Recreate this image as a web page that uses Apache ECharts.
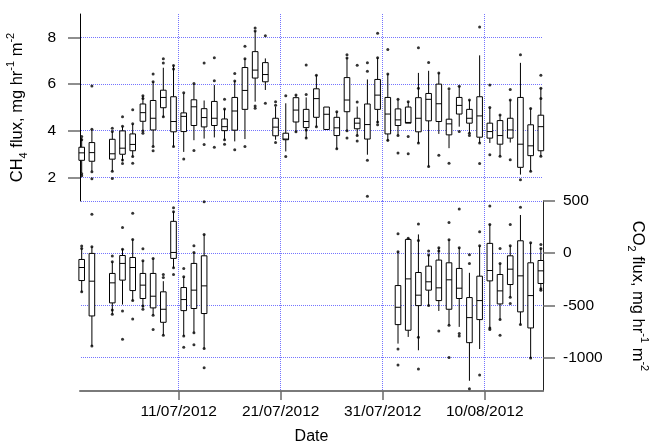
<!DOCTYPE html>
<html>
<head>
<meta charset="utf-8">
<script src="https://cdn.jsdelivr.net/npm/echarts@6/dist/echarts.min.js"></script>
<style>
html, body { margin: 0; padding: 0; background: #fff; }
#mychart { width: 649px; height: 446px; }
</style>
</head>
<body>
<div id="mychart"></div>
<script>
var domchart = document.getElementById("mychart");

// CH4 daily boxes (10th / 25th / median / 75th / 90th) and the dots beyond
var ch4Dates = ['2012-07-01', '2012-07-02', '2012-07-04', '2012-07-05', '2012-07-06', '2012-07-07', '2012-07-08',
    '2012-07-09', '2012-07-10', '2012-07-11', '2012-07-12', '2012-07-13', '2012-07-14', '2012-07-15', '2012-07-16',
    '2012-07-17', '2012-07-18', '2012-07-19', '2012-07-20', '2012-07-21', '2012-07-22', '2012-07-23', '2012-07-24',
    '2012-07-25', '2012-07-26', '2012-07-27', '2012-07-28', '2012-07-29', '2012-07-30', '2012-07-31', '2012-08-01',
    '2012-08-02', '2012-08-03', '2012-08-04', '2012-08-05', '2012-08-06', '2012-08-07', '2012-08-08', '2012-08-09',
    '2012-08-10', '2012-08-11', '2012-08-12', '2012-08-13', '2012-08-14', '2012-08-15'];
var ch4Low = [2.2, 2.27, 2.27, 2.7, 2.9, 4.0, 3.33, 4.6, 3.33, 3.1, 3.6, 3.67, 3.72, 3.62, 3.55, 3.65, 5.25, 5.75,
    3.62, 3.12, 3.96, 3.69, 4.18, 4.06, 3.23, 4.01, 3.8, 2.98, 4.33, 3.55, 3.8, 4.33, 3.48, 2.48, 3.87, 3.26, 4.18,
    3.9, 3.48, 3.48, 2.91, 3.5, 2.13, 2.27, 2.91];
var ch4Q1 = [2.74, 2.7, 2.79, 3.0, 3.15, 4.41, 4.04, 4.99, 3.96, 3.97, 4.23, 4.17, 4.23, 4.01, 4.03, 4.92, 6.26, 6.1,
    3.79, 3.62, 4.38, 4.14, 4.58, 4.06, 3.8, 4.82, 4.09, 3.65, 4.92, 3.87, 4.23, 4.33, 3.96, 4.43, 4.4, 3.83, 4.72,
    4.33, 3.73, 3.69, 3.43, 3.69, 2.44, 2.94, 3.15];
var ch4Med = [3.06, 3.07, 3.02, 3.26, 3.42, 4.78, 4.54, 5.43, 4.4, 4.62, 5.03, 4.57, 4.54, 4.18, 4.85, 5.73, 6.6, 6.41,
    4.16, 3.65, 4.89, 4.4, 5.38, 4.71, 4.13, 5.32, 4.33, 4.27, 5.53, 4.72, 4.47, 4.36, 4.54, 5.35, 5.16, 4.3, 5.09,
    4.54, 4.64, 3.97, 3.8, 4.04, 3.43, 3.36, 4.18];
var ch4Q3 = [3.3, 3.5, 3.64, 4.0, 3.87, 5.15, 5.3, 5.74, 5.46, 4.77, 5.33, 4.95, 5.26, 4.51, 5.43, 6.71, 7.39, 6.92,
    4.54, 3.9, 5.42, 4.92, 5.8, 5.02, 4.58, 6.28, 4.54, 5.15, 6.2, 5.43, 4.94, 5.02, 5.42, 5.6, 6.0, 4.5, 5.43,
    4.92, 5.46, 4.33, 4.44, 4.54, 5.43, 4.26, 4.67];
var ch4High = [3.7, 4.05, 3.97, 4.18, 4.3, 5.5, 6.1, 6.7, 6.8, 5.6, 6.0, 5.3, 5.96, 4.94, 6.13, 7.09, 8.27, 7.1,
    5.04, 5.18, 5.53, 5.43, 6.38, 5.02, 4.82, 7.12, 5.04, 6.2, 7.13, 6.43, 5.35, 5.25, 6.48, 6.57, 6.48, 5.74, 5.91,
    5.32, 7.23, 5.0, 4.68, 5.32, 6.91, 4.96, 5.82];
var ch4Out = [[3.76, 3.62, 2.17, 2.08], [5.92, 4.07, 2.25, 1.95], [4.11, 3.97, 2.27, 1.96], [4.6, 4.2, 2.75, 2.6],
    [4.9, 4.3, 2.9, 2.62], [5.5, 5.38, 4.0, 3.9], [6.43, 6.1, 3.33, 3.15], [7.09, 6.9, 4.6], [6.8, 6.65, 3.33],
    [5.63, 2.8], [6.03, 3.16], [6.9, 3.42], [7.13, 6.14, 3.3], [5.35, 4.94, 3.62, 3.43], [6.45, 6.13, 3.19],
    [7.62, 7.09, 3.33], [8.4, 8.27, 5.06, 4.97], [8.07, 5.18], [5.25, 5.1, 3.5], [5.5, 2.9], [5.53, 3.96],
    [6.82, 5.56, 4.04, 3.69], [6.38, 4.18], [], [4.82, 3.23], [7.26, 7.12, 4.01, 3.69], [6.81, 5.23, 3.8, 3.57],
    [6.91, 6.55, 2.74, 1.2], [8.18, 7.13, 4.38, 4.26], [7.48, 6.43, 3.6], [5.35, 3.8, 3.05], [5.25, 3.76, 3.02],
    [7.56, 5.82, 3.48], [6.92, 2.48], [6.48, 2.96], [5.8, 2.62], [5.91, 3.97], [5.32, 3.9, 3.8], [8.44, 3.48, 2.6],
    [5.96, 5.0, 2.98], [4.68, 2.91], [5.77, 5.32, 2.77], [7.26, 1.91], [4.96, 2.27], [6.38, 5.82, 5.39, 2.91]];

// CO2 daily boxes
var co2Dates = ['2012-07-01', '2012-07-02', '2012-07-04', '2012-07-05', '2012-07-06', '2012-07-07', '2012-07-08',
    '2012-07-09', '2012-07-10', '2012-07-11', '2012-07-12', '2012-07-13', '2012-08-01', '2012-08-02', '2012-08-03',
    '2012-08-04', '2012-08-05', '2012-08-06', '2012-08-07', '2012-08-08', '2012-08-09', '2012-08-10', '2012-08-11',
    '2012-08-12', '2012-08-13', '2012-08-14', '2012-08-15'];
var co2Low = [-370, -889, -585, -492, -454, -521, -594, -786, -140, -793, -761, -914, -866, -802, -930, -502, -553,
    -690, -706, -1222, -918, -716, -636, -422, -684, -1004, -354];
var co2Q1 = [-262, -601, -476, -258, -358, -434, -524, -662, -50, -550, -530, -578, -684, -738, -502, -354, -454,
    -537, -434, -857, -636, -265, -486, -300, -562, -716, -290];
var co2Med = [-137, -268, -284, -98, -137, -306, -412, -537, 7, -444, -354, -313, -518, -246, -402, -274, -332,
    -255, -335, -617, -454, -166, -361, -153, -217, -406, -169];
var co2Q3 = [-60, -2, -194, -22, -41, -194, -194, -370, 305, -329, -98, -25, -310, 132, -185, -124, -66, -92, -146,
    -425, -220, 94, -204, -25, 119, -92, -70];
var co2High = [46, 62, -82, 39, 132, -73, -50, -268, 398, -226, 7, 180, 14, 142, 180, -18, 52, 129, 52, -188, 71,
    276, -98, 71, 366, 100, 46];
var co2Out = [[68, 46, -370], [372, 62, -889], [-28, -82, -545, -585], [247, 39, -553, -825], [382, 132, -454, -630],
    [42, -73, -505, -537], [-50, -594, -732], [-204, -233, -786], [436, 398, -140, -204], [-146, -226, -793, -902],
    [71, 7, -761, -876], [494, 180, -914, -1097], [186, 14, -918, -1071], [142], [279, 122, -806, -1110],
    [20, -18, -502], [52, 20, -745], [295, 129, -690, -998], [423, 52, -770, -794], [-15, -98, -1298],
    [206, 71, -1167], [452, 276, -716, -732], [46, -98, -636, -786], [276, 71, -422, -482], [439, -684],
    [100, -1004], [84, 46, -340, -354]];

// axis ticks: days counted from 1 July 2012 00:00
var xTickDays = [10, 20, 30, 40];
var xTickLabels = ['11/07/2012', '21/07/2012', '31/07/2012', '10/08/2012'];
var ch4Ticks = [2, 4, 6, 8];
var co2Ticks = [500, 0, -500, -1000];

var font = 'Liberation Sans, Arial, sans-serif';
var gridColor = '#7474ff';
var tickColor = '#6a6a6a';

function dayOf(s) {
    var p = s.split('-');
    // box sits at noon of its day
    return (Date.UTC(+p[0], +p[1] - 1, +p[2]) - Date.UTC(2012, 6, 1)) / 86400000 + 0.5;
}

function boxRows(dates, lo, q1, md, q3, hi) {
    var rows = [];
    for (var i = 0; i < dates.length; i++) {
        rows.push([dayOf(dates[i]), lo[i], q1[i], md[i], q3[i], hi[i]]);
    }
    return rows;
}

function outRows(dates, out) {
    var rows = [];
    for (var i = 0; i < dates.length; i++) {
        for (var j = 0; j < out[i].length; j++) {
            rows.push([dayOf(dates[i]), out[i][j]]);
        }
    }
    return rows;
}

// grid rows: [0, day] = vertical line, [1, value] = horizontal line
function gridRows(yTicks) {
    var rows = [];
    for (var i = 0; i < xTickDays.length; i++) rows.push([0, xTickDays[i]]);
    for (var j = 0; j < yTicks.length; j++) rows.push([1, yTicks[j]]);
    return rows;
}

function renderGrid(params, api) {
    var cs = params.coordSys;
    var dir = api.value(0), v = api.value(1);
    var shape;
    if (dir === 0) {
        var px = Math.floor(api.coord([v, 0])[0]) + 0.5;
        shape = { x1: px, y1: cs.y, x2: px, y2: cs.y + cs.height };
    } else {
        var py = Math.floor(api.coord([xMin, v])[1]) + 0.5;
        shape = { x1: cs.x + 1, y1: py, x2: cs.x + cs.width, y2: py };
    }
    return { type: 'line', shape: shape, style: { stroke: gridColor, lineWidth: 1, lineDash: [1, 1] } };
}

function renderBox(params, api) {
    var x = api.value(0);
    var lo = api.coord([x, api.value(1)]);
    var q1 = api.coord([x, api.value(2)]);
    var md = api.coord([x, api.value(3)]);
    var q3 = api.coord([x, api.value(4)]);
    var hi = api.coord([x, api.value(5)]);
    var half = 2.8;
    var st = { stroke: '#000', lineWidth: 1, fill: null };
    return {
        type: 'group',
        children: [
            { type: 'line', shape: { x1: lo[0], y1: lo[1], x2: q1[0], y2: q1[1] }, style: st },
            { type: 'line', shape: { x1: q3[0], y1: q3[1], x2: hi[0], y2: hi[1] }, style: st },
            { type: 'rect', shape: { x: q3[0] - half, y: q3[1], width: half * 2, height: q1[1] - q3[1] },
                style: { stroke: '#000', lineWidth: 1, fill: '#fff' } },
            { type: 'line', shape: { x1: md[0] - half, y1: md[1], x2: md[0] + half, y2: md[1] }, style: st }
        ]
    };
}

function dateLabel(v) {
    var k = xTickDays.indexOf(Math.round(v));
    return k < 0 ? '' : xTickLabels[k];
}

function plainLabel(v) {
    return String(v);
}

function richTitle() {
    return {
        color: '#000', fontFamily: font,
        rich: {
            t: { fontSize: 16.5, lineHeight: 24, verticalAlign: 'middle', fontFamily: font, color: '#000' },
            sub: { fontSize: 11, lineHeight: 11, verticalAlign: 'bottom', fontFamily: font, color: '#000' },
            sup: { fontSize: 11, lineHeight: 11, verticalAlign: 'top', fontFamily: font, color: '#000' }
        }
    };
}

var xMin = 0.334, xMax = 45.71;

option = {
    animation: false,
    backgroundColor: '#fff',
    textStyle: { fontFamily: font },
    grid: [
        { left: 80, right: 106, top: 14, height: 187, outerBoundsMode: 'none', show: false },
        { left: 80, right: 106, top: 201, height: 190, outerBoundsMode: 'none', show: false }
    ],
    xAxis: [{
        gridIndex: 0,
        type: 'value',
        min: xMin,
        max: xMax,
        axisLine: { show: false, onZero: false },
        axisTick: { show: false },
        axisLabel: { show: false },
        splitLine: { show: false }
    }, {
        gridIndex: 1,
        type: 'value',
        min: xMin,
        max: xMax,
        name: 'Date',
        nameLocation: 'middle',
        nameGap: 38,
        nameTextStyle: { color: '#000', fontSize: 16, fontFamily: font },
        axisLine: { show: true, onZero: false, lineStyle: { color: '#7a7a7a', width: 2 } },
        axisTick: { show: true, inside: false, length: 9, customValues: xTickDays,
            lineStyle: { color: tickColor, width: 1.5 } },
        axisLabel: { customValues: xTickDays, formatter: dateLabel, margin: 13, color: '#000', fontSize: 15.5,
            fontFamily: font },
        splitLine: { show: false }
    }],
    yAxis: [{
        gridIndex: 0,
        type: 'value',
        position: 'left',
        min: 1,
        max: 9,
        name: '{t|CH}{sub|4}{t| flux, mg hr}{sup|-1}{t| m}{sup|-2}',
        nameLocation: 'middle',
        nameRotate: 90,
        nameGap: 51,
        nameTextStyle: richTitle(),
        axisLine: { show: true, onZero: false, lineStyle: { color: '#000', width: 1 } },
        axisTick: { show: true, inside: false, length: 12, customValues: ch4Ticks,
            lineStyle: { color: tickColor, width: 1.5 } },
        axisLabel: { customValues: ch4Ticks, formatter: plainLabel, margin: 24, color: '#000', fontSize: 15.5,
            fontFamily: font },
        splitLine: { show: false }
    }, {
        gridIndex: 1,
        type: 'value',
        position: 'right',
        min: -1320,
        max: 500,
        name: '{t|CO}{sub|2}{t| flux, mg hr}{sup|-1}{t| m}{sup|-2}',
        nameLocation: 'middle',
        nameRotate: -90,
        nameGap: 83,
        nameTextStyle: richTitle(),
        axisLine: { show: true, onZero: false, lineStyle: { color: '#222', width: 1 } },
        axisTick: { show: true, inside: false, length: 12, customValues: co2Ticks,
            lineStyle: { color: tickColor, width: 1.5 } },
        axisLabel: { customValues: co2Ticks, formatter: plainLabel, margin: 20, color: '#000', fontSize: 15.5,
            fontFamily: font },
        splitLine: { show: false }
    }],
    series: [{
        type: 'custom',
        xAxisIndex: 0,
        yAxisIndex: 0,
        z: 1,
        clip: false,
        renderItem: renderGrid,
        data: gridRows(ch4Ticks),
        silent: true
    }, {
        type: 'scatter',
        xAxisIndex: 0,
        yAxisIndex: 0,
        z: 2,
        symbolSize: 3,
        itemStyle: { color: '#000' },
        data: outRows(ch4Dates, ch4Out),
        silent: true
    }, {
        type: 'custom',
        xAxisIndex: 0,
        yAxisIndex: 0,
        z: 3,
        renderItem: renderBox,
        encode: { x: 0, y: [1, 2, 3, 4, 5] },
        data: boxRows(ch4Dates, ch4Low, ch4Q1, ch4Med, ch4Q3, ch4High),
        silent: true
    }, {
        type: 'custom',
        xAxisIndex: 1,
        yAxisIndex: 1,
        z: 1,
        clip: false,
        renderItem: renderGrid,
        data: gridRows(co2Ticks),
        silent: true
    }, {
        type: 'scatter',
        xAxisIndex: 1,
        yAxisIndex: 1,
        z: 2,
        symbolSize: 3,
        itemStyle: { color: '#000' },
        data: outRows(co2Dates, co2Out),
        silent: true
    }, {
        type: 'custom',
        xAxisIndex: 1,
        yAxisIndex: 1,
        z: 3,
        renderItem: renderBox,
        encode: { x: 0, y: [1, 2, 3, 4, 5] },
        data: boxRows(co2Dates, co2Low, co2Q1, co2Med, co2Q3, co2High),
        silent: true
    }]
};

var chart = echarts.init(domchart);
chart.setOption(option, true);
</script>
</body>
</html>
